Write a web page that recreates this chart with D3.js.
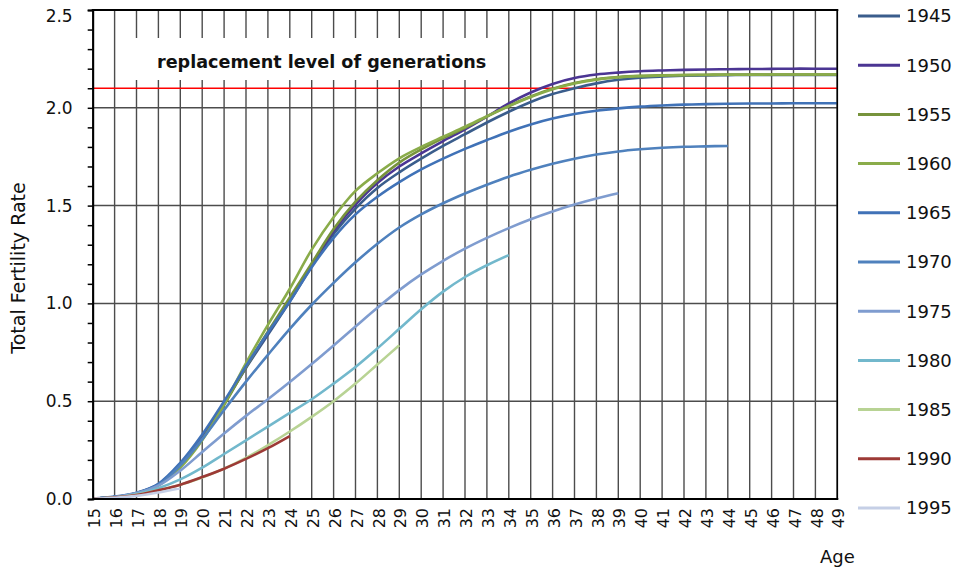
<!DOCTYPE html>
<html><head><meta charset="utf-8">
<script src="https://cdn.jsdelivr.net/npm/d3@7"></script>
<style>
body{margin:0;background:#fff;}
svg{display:block;font-family:"DejaVu Sans",sans-serif;}
</style>
</head><body>
<svg id="chart" width="958" height="570"></svg>
<script>
// ---------- DATA ----------
const ages = [15,16,17,18,19,20,21,22,23,24,25,26,27,28,29,30,31,32,33,34,35,36,37,38,39,40,41,42,43,44,45,46,47,48,49];
const cohorts = ["1945","1950","1955","1960","1965","1970","1975","1980","1985","1990","1995"];
const s1945 = [0.002,0.01,0.03,0.075,0.18,0.32,0.49,0.67,0.84,1.01,1.19,1.355,1.485,1.59,1.67,1.74,1.805,1.865,1.925,1.98,2.03,2.07,2.10,2.125,2.143,2.154,2.16,2.164,2.166,2.167,2.168,2.168,2.168,2.168,2.168];
const s1950 = [0.002,0.01,0.03,0.075,0.18,0.32,0.49,0.675,0.85,1.02,1.195,1.37,1.505,1.615,1.70,1.767,1.83,1.89,1.955,2.022,2.078,2.122,2.152,2.17,2.18,2.187,2.191,2.194,2.196,2.197,2.198,2.199,2.2,2.2,2.2];
const s1955 = [0.002,0.01,0.03,0.072,0.165,0.305,0.48,0.675,0.855,1.03,1.205,1.38,1.52,1.63,1.72,1.787,1.845,1.898,1.955,2.01,2.058,2.098,2.127,2.146,2.157,2.163,2.166,2.168,2.169,2.17,2.17,2.17,2.17,2.17,2.17];
const s1960 = [0.002,0.01,0.03,0.07,0.16,0.30,0.485,0.695,0.89,1.075,1.275,1.44,1.575,1.665,1.742,1.80,1.852,1.903,1.957,2.008,2.055,2.095,2.124,2.144,2.156,2.162,2.165,2.167,2.168,2.169,2.169,2.17,2.17,2.17,2.17];
const s1965 = [0.002,0.012,0.032,0.078,0.185,0.33,0.50,0.68,0.85,1.01,1.185,1.335,1.455,1.545,1.62,1.685,1.74,1.79,1.835,1.878,1.915,1.945,1.968,1.985,1.997,2.006,2.012,2.016,2.019,2.021,2.022,2.022,2.023,2.023,2.023];
const s1970 = [0.002,0.01,0.03,0.072,0.172,0.305,0.455,0.60,0.737,0.87,0.993,1.105,1.21,1.305,1.388,1.455,1.512,1.562,1.607,1.648,1.683,1.714,1.74,1.761,1.777,1.788,1.796,1.801,1.803,1.805];
const s1975 = [0.002,0.01,0.03,0.068,0.145,0.24,0.335,0.425,0.51,0.598,0.69,0.785,0.882,0.978,1.068,1.148,1.218,1.28,1.335,1.385,1.43,1.47,1.505,1.536,1.563];
const s1980 = [0.002,0.008,0.025,0.055,0.10,0.16,0.23,0.30,0.37,0.44,0.51,0.59,0.675,0.77,0.87,0.97,1.06,1.135,1.195,1.247];
const s1985 = [0.002,0.008,0.022,0.045,0.073,0.11,0.155,0.21,0.275,0.345,0.42,0.50,0.59,0.688,0.786];
const s1990 = [0.002,0.008,0.02,0.045,0.073,0.112,0.155,0.205,0.26,0.322];
const s1995 = [0.001,0.006,0.016,0.033,0.055];
const seriesValues = [s1945,s1950,s1955,s1960,s1965,s1970,s1975,s1980,s1985,s1990,s1995];
const colors = ["#3a5d8c","#4b3593","#77933c","#8aac4a","#4072b7","#4f81bd","#7f9ccf","#72b8cc","#b8d394","#9d3a36","#c5cfe6"];
const yMajorTicks = [0,0.5,1,1.5,2,2.5];
const yTickLabels = ["0.0","0.5","1.0","1.5","2.0","2.5"];
const yMinorTicks = [0,0.1,0.2,0.3,0.4,0.5,0.6,0.7,0.8,0.9,1,1.1,1.2,1.3,1.4,1.5,1.6,1.7,1.8,1.9,2,2.1,2.2,2.3,2.4,2.5];
const replacementLevel = 2.1;
const replacementText = "replacement level of generations";
const yTitle = "Total Fertility Rate";
const xTitle = "Age";

// ---------- CHART ----------
const svg = d3.select("#chart");
const L = 92.7, R = 837.3, T = 10, B = 499;
const x = d3.scalePoint().domain(ages).range([L, R]);
const y = d3.scaleLinear().domain([0, 2.5]).range([B, T]);
const gridColor = "#4c4c4c";

const grid = svg.append("g");
grid.selectAll("line.v").data(ages).join("line")
  .attr("x1", d => x(d)).attr("x2", d => x(d))
  .attr("y1", T).attr("y2", B)
  .attr("stroke", gridColor).attr("stroke-width", 1.4);
grid.selectAll("line.h").data(yMajorTicks.slice(1, -1)).join("line")
  .attr("x1", L).attr("x2", R)
  .attr("y1", d => y(d)).attr("y2", d => y(d))
  .attr("stroke", gridColor).attr("stroke-width", 1.5);

// white label box
svg.append("rect").attr("x", 122).attr("y", 38).attr("width", 376).attr("height", 42).attr("fill", "#fff");
svg.append("text").attr("x", 157).attr("y", 62).attr("dy", "0.35em")
  .attr("font-size", 17.6).attr("font-weight", "bold").attr("fill", "#111").text(replacementText);

// replacement line
svg.append("line").attr("x1", L).attr("x2", R)
  .attr("y1", y(replacementLevel)).attr("y2", y(replacementLevel))
  .attr("stroke", "#ff0000").attr("stroke-width", 1.3);

// series
const line = d3.line().x((d, i) => x(ages[i])).y(d => y(d)).curve(d3.curveCatmullRom.alpha(0.5));
svg.append("g").selectAll("path").data(seriesValues).join("path")
  .attr("d", d => line(d)).attr("fill", "none")
  .attr("stroke", (d, i) => colors[i]).attr("stroke-width", 2.6)
  .attr("stroke-linejoin", "round").attr("stroke-linecap", "butt");

// borders
svg.append("line").attr("x1", L - 1).attr("x2", R + 1).attr("y1", T).attr("y2", T).attr("stroke", "#000").attr("stroke-width", 2);
svg.append("line").attr("x1", R).attr("x2", R).attr("y1", T).attr("y2", B).attr("stroke", "#000").attr("stroke-width", 1.6);
svg.append("line").attr("x1", L).attr("x2", R + 1).attr("y1", B).attr("y2", B).attr("stroke", "#000").attr("stroke-width", 2);

// y axis
const yAxis = d3.axisLeft(y).tickValues(yMinorTicks).tickSize(5).tickPadding(15)
  .tickFormat(d => { const k = yMajorTicks.findIndex(v => Math.abs(v - d) < 1e-9); return k >= 0 ? yTickLabels[k] : ""; });
const ya = svg.append("g").attr("transform", `translate(${L},0)`).call(yAxis);
ya.select(".domain").attr("stroke", "#000").attr("stroke-width", 2);
ya.selectAll(".tick line").attr("stroke", "#000").attr("stroke-width", 1.5);
ya.selectAll("text").attr("font-size", 17).attr("fill", "#111").attr("font-family", '"DejaVu Sans",sans-serif')
  .attr("dy", d => Math.abs(d - 2.5) < 1e-9 ? "0.65em" : "0.32em");

// x axis labels
const xAxis = d3.axisBottom(x).tickSize(0).tickPadding(0);
const xa = svg.append("g").attr("transform", `translate(0,${B})`).call(xAxis);
xa.select(".domain").remove();
xa.selectAll("text").attr("font-size", 16).attr("fill", "#111").attr("font-family", '"DejaVu Sans",sans-serif')
  .attr("text-anchor", "end").attr("transform", "translate(1,9) rotate(-90)")
  .attr("x", 0).attr("y", 0).attr("dy", "0.35em");

// titles
svg.append("text").attr("transform", "translate(18,268) rotate(-90)").attr("dy", "0.35em")
  .attr("text-anchor", "middle").attr("font-size", 19).attr("fill", "#111").text(yTitle);
svg.append("text").attr("x", 820).attr("y", 557).attr("dy", "0.35em")
  .attr("font-size", 18).attr("fill", "#111").text(xTitle);

// legend
const lg = svg.append("g").selectAll("g").data(cohorts).join("g")
  .attr("transform", (d, i) => `translate(858,${16 + i * 49.2})`);
lg.append("line").attr("x1", 0).attr("x2", 42).attr("stroke", (d, i) => colors[i]).attr("stroke-width", 3);
lg.append("text").attr("x", 48).attr("dy", "0.35em").attr("font-size", 18).attr("fill", "#111").text(d => d);
</script>
</body></html>
